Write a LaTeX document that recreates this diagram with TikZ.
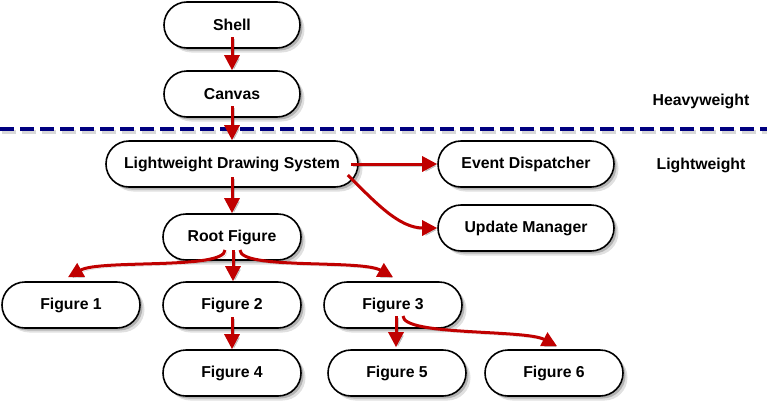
\documentclass[tikz,border=0pt]{standalone}
\usepackage{fontspec}
\setmainfont{Liberation Sans}
\usetikzlibrary{arrows.meta,shadows}
\definecolor{arrred}{RGB}{192,0,0}
\definecolor{dashnavy}{RGB}{0,0,128}
\begin{document}
\begin{tikzpicture}[x=1pt,y=-1pt,
  box/.style={draw=black, line width=1.6pt, fill=white, rounded corners=23pt,
    minimum height=46pt, inner sep=0pt, font=\bfseries\fontsize{15.8}{18}\selectfont,
    drop shadow={shadow xshift=4.5pt, shadow yshift=-4.5pt, opacity=0.12, fill=black},
    drop shadow={shadow xshift=2.5pt, shadow yshift=-2.5pt, opacity=0.2, fill=black}},
  lbl/.style={font=\bfseries\fontsize{15.8}{18}\selectfont, inner sep=0pt},
  arr/.style={draw=arrred, line width=3pt, -{Triangle[width=15pt,length=15pt]},
    preaction={draw=black, opacity=0.2, transform canvas={shift={(2pt,-2pt)}}}},
  sepline/.style={draw=dashnavy, line width=3.5pt, dash pattern=on 14pt off 6pt}
  ]
\useasboundingbox (0,0) rectangle (767,407);
% separator
\coordinate (sl) at (0,129);
\coordinate (sr) at (767,129);
\draw[sepline, draw=black, opacity=0.15, transform canvas={shift={(2pt,-3pt)}}] (sl) -- (sr);
\draw[sepline] (sl) -- (sr);
% labels
\node[lbl] (heavy) at (701,101) {Heavyweight};
\node[lbl] (light) at (701,165) {Lightweight};
% nodes
\node[box, minimum width=136pt] (shell) at (232,25) {Shell};
\node[box, minimum width=136pt] (canvas) at (232,94) {Canvas};
\node[box, minimum width=252pt] (lds) at (232,164) {Lightweight Drawing System};
\node[box, minimum width=176pt] (ed) at (526,164) {Event Dispatcher};
\node[box, minimum width=176pt] (um) at (526,228) {Update Manager};
\node[box, minimum width=138pt] (root) at (232,237) {Root Figure};
\node[box, minimum width=138pt] (f1) at (71,305) {Figure 1};
\node[box, minimum width=138pt] (f2) at (232,305) {Figure 2};
\node[box, minimum width=138pt] (f3) at (393,305) {Figure 3};
\node[box, minimum width=138pt] (f4) at (232,373) {Figure 4};
\node[box, minimum width=138pt] (f5) at (397,373) {Figure 5};
\node[box, minimum width=138pt] (f6) at (554,373) {Figure 6};
% arrows
\draw[arr] ([yshift=-12pt]shell.center) -- (canvas.north);
\draw[arr] ([yshift=-12pt]canvas.center) -- (lds.north);
\draw[arr] ([xshift=-8pt]lds.east) -- (ed.west);
\draw[arr] ([shift={(-11pt,-11pt)}]lds.east) .. controls +(28,28) and +(-38,0) .. (um.west);
\draw[arr] ([yshift=-13pt]lds.center) -- (root.north);
\draw[arr] ([shift={(-7pt,-13pt)}]root.center) .. controls +(0,20) and +(32,-18) .. ([xshift=-3pt,yshift=4pt]f1.north);
\draw[arr] ([shift={(1pt,-13pt)}]root.center) -- ([xshift=1pt]f2.north);
\draw[arr] ([shift={(8pt,-13pt)}]root.center) .. controls +(0,20) and +(-32,-18) .. ([yshift=4pt]f3.north);
\draw[arr] ([yshift=-12pt]f2.center) -- (f4.north);
\draw[arr] ([shift={(3pt,-11pt)}]f3.center) -- ([xshift=-1pt,yshift=2pt]f5.north);
\draw[arr] ([shift={(10pt,-11pt)}]f3.center) .. controls +(0,20) and +(-32,-17) .. ([xshift=3pt,yshift=3pt]f6.north);
\end{tikzpicture}
\end{document}
